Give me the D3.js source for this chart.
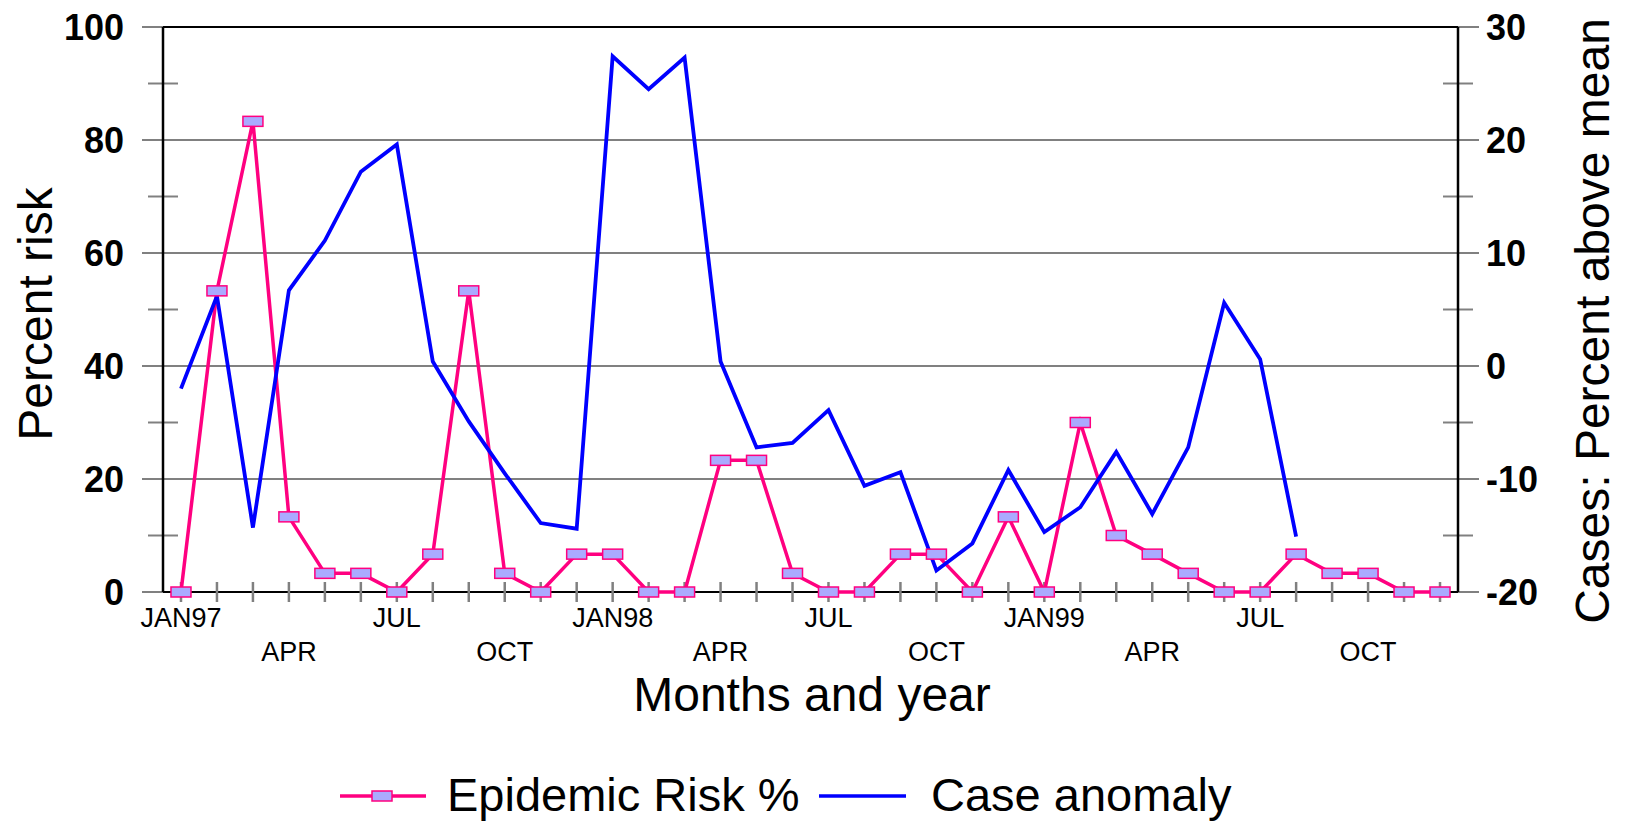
<!DOCTYPE html>
<html><head><meta charset="utf-8">
<script src="https://cdn.jsdelivr.net/npm/d3@7/dist/d3.min.js"></script>
<style>
body{margin:0;background:#fff}
svg{display:block}
text{font-family:"Liberation Sans",Arial,Helvetica,sans-serif;fill:#000}
</style>
</head><body>
<svg id="chart" width="1627" height="823"></svg>
<script>
const months = ["JAN97","FEB97","MAR97","APR97","MAY97","JUN97","JUL97","AUG97","SEP97","OCT97","NOV97","DEC97",
  "JAN98","FEB98","MAR98","APR98","MAY98","JUN98","JUL98","AUG98","SEP98","OCT98","NOV98","DEC98",
  "JAN99","FEB99","MAR99","APR99","MAY99","JUN99","JUL99","AUG99","SEP99","OCT99","NOV99","DEC99"];
const xTickLabels = ["JAN97","","","APR","","","JUL","","","OCT","","",
  "JAN98","","","APR","","","JUL","","","OCT","","",
  "JAN99","","","APR","","","JUL","","","OCT","",""];
const riskPct = [0,53.3,83.3,13.3,3.3,3.3,0,6.7,53.3,3.3,0,6.7,
  6.7,0,0,23.3,23.3,3.3,0,0,6.7,6.7,0,13.3,
  0,30,10,6.7,3.3,0,0,6.7,3.3,3.3,0,0];
const caseAnomaly = [-2,6.2,-14.3,6.7,11.1,17.2,19.6,0.4,-4.9,-9.5,-13.9,-14.4,
  27.4,24.5,27.3,0.4,-7.2,-6.8,-3.9,-10.6,-9.4,-18.1,-15.7,-9.2,
  -14.7,-12.5,-7.6,-13.1,-7.2,5.6,0.6,-15.1];
const leftTicks = [0,20,40,60,80,100];
const leftMinor = [10,30,50,70,90];
const rightTicks = [-20,-10,0,10,20,30];
const seriesNames = ["Epidemic Risk %","Case anomaly"];

const W = 1627, H = 823;
const L = 163, R = 1458, T = 27, B = 592;
const pink = "#ff0080", blue = "#0000ff", grey = "#808080", markFill = "#aaaaff";

const svg = d3.select("#chart");
const x = d3.scaleBand().domain(months).range([L, R]);
const cx = m => x(m) + x.bandwidth() / 2;
const yL = d3.scaleLinear().domain([0, 100]).range([B, T]);
const yR = d3.scaleLinear().domain([-20, 30]).range([B, T]);

// gridlines (major) extending beyond axes
svg.append("g").selectAll("line").data(leftTicks).join("line")
  .attr("x1", L - 21).attr("x2", R + 21)
  .attr("y1", d => yL(d)).attr("y2", d => yL(d))
  .attr("stroke", grey).attr("stroke-width", 2);

// top & bottom borders in black inside plot
svg.append("line").attr("x1", L).attr("x2", R).attr("y1", yL(100)).attr("y2", yL(100)).attr("stroke", "#000").attr("stroke-width", 2);
svg.append("line").attr("x1", L).attr("x2", R).attr("y1", yL(0)).attr("y2", yL(0)).attr("stroke", "#000").attr("stroke-width", 2);

// minor ticks left & right
svg.append("g").selectAll("line").data(leftMinor).join("line")
  .attr("x1", L - 15).attr("x2", L + 15)
  .attr("y1", d => yL(d)).attr("y2", d => yL(d))
  .attr("stroke", grey).attr("stroke-width", 2);
svg.append("g").selectAll("line").data(leftMinor).join("line")
  .attr("x1", R - 15).attr("x2", R + 15)
  .attr("y1", d => yL(d)).attr("y2", d => yL(d))
  .attr("stroke", grey).attr("stroke-width", 2);

// x ticks crossing the baseline
svg.append("g").selectAll("line").data(months).join("line")
  .attr("x1", d => cx(d)).attr("x2", d => cx(d))
  .attr("y1", B - 10).attr("y2", B + 10)
  .attr("stroke", grey).attr("stroke-width", 2.5);

// axis lines
svg.append("line").attr("x1", L).attr("x2", L).attr("y1", T).attr("y2", B).attr("stroke", "#000").attr("stroke-width", 2.5);
svg.append("line").attr("x1", R).attr("x2", R).attr("y1", T).attr("y2", B).attr("stroke", "#000").attr("stroke-width", 2.5);

// left tick labels
svg.append("g").selectAll("text").data(leftTicks).join("text")
  .attr("x", 124).attr("y", d => yL(d)).attr("dy", "0.36em")
  .attr("text-anchor", "end").attr("font-size", 36).attr("font-weight", "bold")
  .text(d => d);
// right tick labels
svg.append("g").selectAll("text").data(rightTicks).join("text")
  .attr("x", 1486).attr("y", d => yR(d)).attr("dy", "0.36em")
  .attr("text-anchor", "start").attr("font-size", 36).attr("font-weight", "bold")
  .text(d => d);

// x tick labels in two rows
svg.append("g").selectAll("text").data(months.map((m, i) => ({m, i, t: xTickLabels[i]})).filter(d => d.t))
  .join("text")
  .attr("x", d => cx(d.m)).attr("y", d => (d.i % 6 === 0) ? 627 : 661)
  .attr("text-anchor", "middle").attr("font-size", 27)
  .text(d => d.t);

// axis titles
svg.append("text").attr("x", 812).attr("y", 711).attr("text-anchor", "middle").attr("font-size", 48).text("Months and year");
svg.append("text").attr("transform", "translate(52,314) rotate(-90)").attr("text-anchor", "middle").attr("font-size", 48).text("Percent risk");
svg.append("text").attr("transform", "translate(1609,321) rotate(-90)").attr("text-anchor", "middle").attr("font-size", 48).text("Cases: Percent above mean");

// lines
const lineRisk = d3.line().x((d, i) => cx(months[i])).y(d => yL(d));
const lineCase = d3.line().x((d, i) => cx(months[i])).y(d => yR(d));
svg.append("path").datum(riskPct).attr("d", lineRisk).attr("fill", "none").attr("stroke", pink).attr("stroke-width", 3.5).attr("stroke-linejoin", "miter");
svg.append("path").datum(caseAnomaly).attr("d", lineCase).attr("fill", "none").attr("stroke", blue).attr("stroke-width", 3.8).attr("stroke-linejoin", "miter");

// markers
svg.append("g").selectAll("rect").data(riskPct).join("rect")
  .attr("x", (d, i) => cx(months[i]) - 10).attr("y", d => yL(d) - 5)
  .attr("width", 20).attr("height", 10)
  .attr("fill", markFill).attr("stroke", pink).attr("stroke-width", 1.5);

// legend
const lg = svg.append("g");
lg.append("line").attr("x1", 340).attr("x2", 426).attr("y1", 796).attr("y2", 796).attr("stroke", pink).attr("stroke-width", 3.5);
lg.append("rect").attr("x", 372).attr("y", 791).attr("width", 20).attr("height", 10).attr("fill", markFill).attr("stroke", pink).attr("stroke-width", 1.5);
lg.append("text").attr("x", 447).attr("y", 811).attr("font-size", 47).text(seriesNames[0]);
lg.append("line").attr("x1", 819).attr("x2", 906).attr("y1", 796).attr("y2", 796).attr("stroke", blue).attr("stroke-width", 3.5);
lg.append("text").attr("x", 931).attr("y", 811).attr("font-size", 47).text(seriesNames[1]);
</script>
</body></html>
